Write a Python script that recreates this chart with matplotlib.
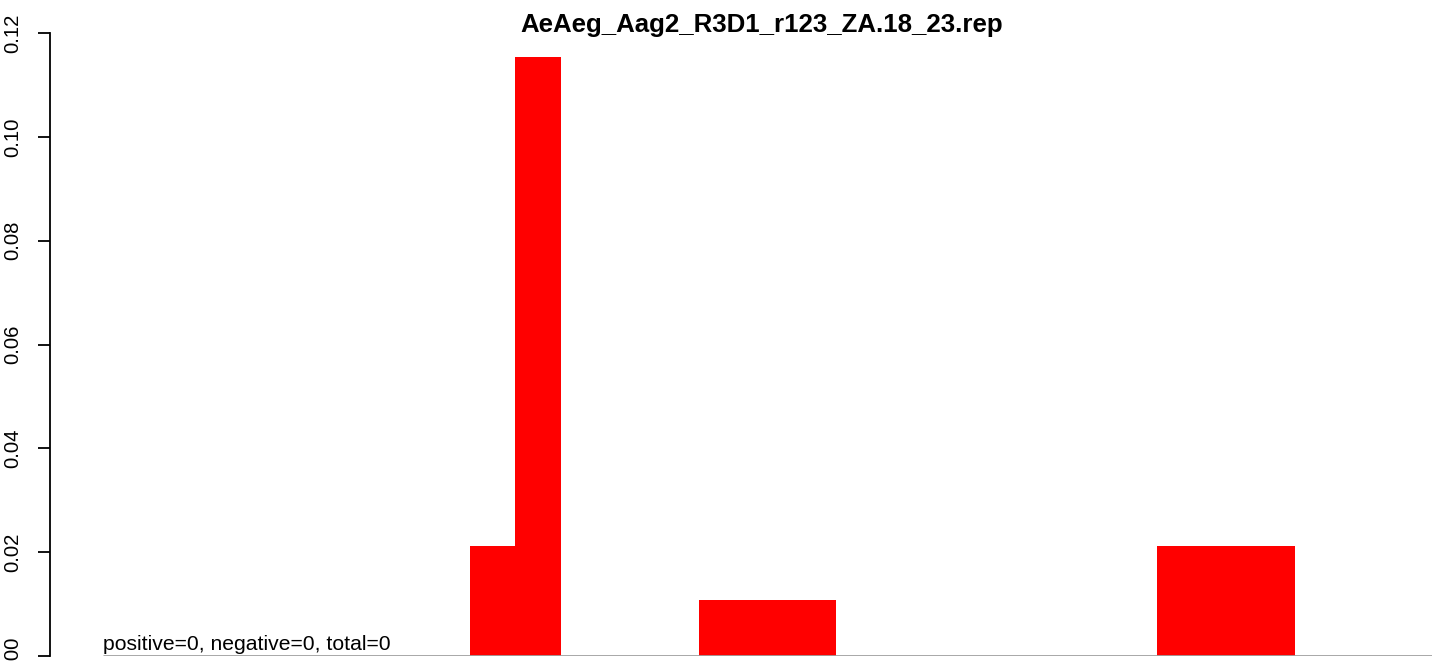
import numpy as np
import matplotlib.pyplot as plt

plt.rcParams['font.family'] = ['Liberation Sans', 'DejaVu Sans']

# Bar heights (one per position, no gaps between bars)
values = [0, 0, 0, 0, 0, 0, 0, 0, 0.0212, 0.1154, 0, 0, 0,
          0.0107, 0.0107, 0.0107, 0, 0, 0, 0, 0, 0, 0,
          0.0212, 0.0212, 0.0212, 0, 0, 0]
yticks = [0.00, 0.02, 0.04, 0.06, 0.08, 0.10, 0.12]
title = 'AeAeg_Aag2_R3D1_r123_ZA.18_23.rep'
note = 'positive=0, negative=0, total=0'

W, H = 1439, 661
fig = plt.figure(figsize=(W / 100, H / 100), dpi=100)
ax = fig.add_axes([50 / W, (H - 656) / H, 1382 / W, 623 / H])

x = np.arange(len(values))
ax.bar(x, values, width=1.0, align='edge', color='red', linewidth=0)
ax.hlines(0, 0, len(values), color='#a0a0a0', linewidth=2, zorder=3)

ax.set_xlim(-1.156, len(values))
ax.set_ylim(0, 0.12)

for s in ['top', 'right', 'bottom']:
    ax.spines[s].set_visible(False)
ax.spines['left'].set_linewidth(1.3)
ax.set_xticks([])
ax.set_yticks(yticks)
ax.set_yticklabels(['%.2f' % v for v in yticks], rotation=90, va='center', fontsize=14.6)
ax.tick_params(axis='y', length=9, width=1.3, pad=11)

fig.text(0.5 * (519 + 1005) / W, (H - 32) / H, title, fontsize=18.6,
         fontweight='bold', ha='center', va='baseline')
ax.text(0, 0.0003, note, fontsize=15.2, ha='left', va='bottom')

fig.savefig('out.png', dpi=100)
